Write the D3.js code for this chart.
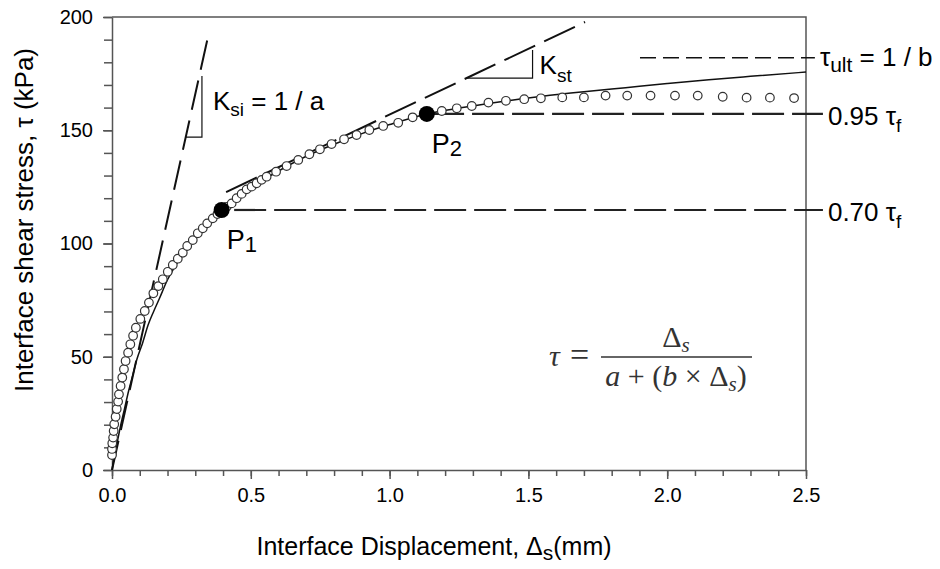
<!DOCTYPE html>
<html>
<head>
<meta charset="utf-8">
<script src="https://cdn.jsdelivr.net/npm/d3@7"></script>
<style>
  body { margin: 0; background: #fff; }
  svg text { font-family: "Liberation Sans", Arial, sans-serif; fill: #000; }
  .axis path, .axis line { stroke: #555; stroke-width: 1.5; }
  .axis text { font-size: 20px; font-family: "Liberation Sans", Arial, sans-serif; }
</style>
</head>
<body>
<svg id="chart" width="940" height="569"></svg>
<script>
// measured points (open circles): displacement (mm), shear stress (kPa)
const measuredDisp = [0.000, 0.000, 0.001, 0.004, 0.006, 0.008, 0.013, 0.017, 0.022, 0.025,
  0.031, 0.037, 0.043, 0.049, 0.058, 0.066, 0.076, 0.086, 0.102, 0.118,
  0.133, 0.149, 0.167, 0.183, 0.201, 0.219, 0.237, 0.255, 0.271, 0.291,
  0.309, 0.327, 0.343, 0.363, 0.380, 0.413, 0.431, 0.449, 0.467, 0.485,
  0.503, 0.521, 0.539, 0.557, 0.591, 0.629, 0.671, 0.711, 0.749, 0.791,
  0.836, 0.881, 0.927, 0.977, 1.031, 1.083, 1.134, 1.188, 1.242, 1.296,
  1.356, 1.419, 1.485, 1.545, 1.622, 1.700, 1.778, 1.856, 1.940, 2.028,
  2.110, 2.200, 2.286, 2.370, 2.457];
const measuredTau = [6.6, 9.3, 11.8, 14.3, 17.2, 20.2, 23.5, 26.9, 30.2, 33.4,
  37.1, 40.8, 44.5, 48.1, 51.8, 55.5, 59.3, 62.8, 66.7, 70.2,
  73.9, 78.0, 81.2, 84.2, 87.5, 90.5, 93.3, 95.9, 98.9, 101.5,
  104.5, 106.7, 108.9, 111.1, 113.0, 116.2, 117.7, 120.0, 121.9, 123.9,
  125.1, 126.6, 128.1, 129.5, 131.7, 134.2, 136.9, 139.4, 141.6, 143.9,
  146.0, 147.9, 150.1, 151.9, 153.3, 155.7, 157.2, 158.5, 159.7, 160.7,
  162.2, 163.0, 163.7, 164.1, 164.5, 164.5, 165.3, 165.3, 165.3, 165.3,
  165.3, 164.8, 164.4, 164.4, 164.2];

// hyperbolic fit (solid line)
const fitDisp = [0, 0.01, 0.02, 0.03, 0.045, 0.06, 0.075, 0.09, 0.11, 0.13,
  0.15, 0.17, 0.2, 0.23, 0.26, 0.3, 0.35, 0.395, 0.45, 0.5,
  0.6, 0.7, 0.8, 0.9, 1.0, 1.134, 1.25, 1.4, 1.55, 1.7,
  1.85, 2.0, 2.15, 2.3, 2.5];
const fitTau = [0, 7, 13, 19, 27, 35, 42, 49, 56, 64,
  70, 75.5, 84, 90.5, 96, 102.5, 109, 114.8, 119.5, 124.5,
  132, 138.5, 143.8, 148.5, 152.5, 157.2, 159.8, 162.6, 165, 167,
  168.8, 170.6, 172.3, 173.8, 175.7];

// key points P1, P2
const keyNames = ["1", "2"];
const keyDisp = [0.395, 1.134];
const keyTau = [114.8, 157.2];

// tangent lines [disp, tau]
const ksiLine = [[0, 0], [0.347, 192]];
const kstLine = [[0.411, 122.7], [1.704, 197.8]];
const ksiTriangle = [[0.265, 147], [0.324, 147], [0.324, 174]];
const kstTriangle = [[1.278, 173], [1.515, 173], [1.515, 185.4]];

// horizontal reference levels
const tauUlt = 182;
const refLevels = [
  { tau: 157.2, from: 1.153, label: "0.95 " },
  { tau: 114.8, from: 0.44, label: "0.70 " }
];

const xTicks = [0, 0.5, 1.0, 1.5, 2.0, 2.5];
const yTicks = [0, 50, 100, 150, 200];

const svg = d3.select("#chart");
const margin = { top: 17, left: 112 };
const width = 694, height = 453;

const x = d3.scaleLinear().domain([0, 2.5]).range([0, width]);
const y = d3.scaleLinear().domain([0, 200]).range([height, 0]);

const g = svg.append("g")
  .attr("transform", "translate(" + margin.left + "," + margin.top + ")");

// minor ticks
g.append("g")
  .attr("class", "axis")
  .attr("transform", "translate(0," + height + ")")
  .call(d3.axisBottom(x).tickValues(d3.range(0, 26).map(d => d / 10)).tickSize(6).tickFormat(""))
  .select(".domain").remove();
g.append("g")
  .attr("class", "axis")
  .call(d3.axisLeft(y).tickValues(d3.range(0, 201, 10)).tickSize(8).tickFormat(""))
  .select(".domain").remove();

g.append("g")
  .attr("class", "axis")
  .attr("transform", "translate(0," + height + ")")
  .call(d3.axisBottom(x).tickValues(xTicks).tickSize(9).tickSizeOuter(0).tickPadding(9).tickFormat(d3.format(".1f")));
g.append("g")
  .attr("class", "axis")
  .call(d3.axisLeft(y).tickValues(yTicks).tickSize(9).tickSizeOuter(0).tickPadding(10).tickFormat(d3.format("d")));

// frame top and right
g.append("path")
  .attr("d", "M0,0H" + width + "V" + height)
  .attr("fill", "none").attr("stroke", "#555").attr("stroke-width", 1.5);

const line = d3.line().x(d => x(d[0])).y(d => y(d[1]));

// reference dashed lines
refLevels.forEach(r => {
  g.append("path")
    .attr("d", line([[r.from, r.tau], [2.561, r.tau]]))
    .attr("stroke", "#222").attr("stroke-width", 2.2).attr("fill", "none")
    .attr("stroke-dasharray", "32,8");
  const t = g.append("text")
    .attr("x", x(2.561) + 5).attr("y", y(r.tau) + 11)
    .attr("font-size", 26);
  t.append("tspan").text(r.label + "\u03c4");
  t.append("tspan").attr("dy", 7).attr("font-size", 19).text("f");
});

g.append("path")
  .attr("d", line([[1.902, tauUlt], [2.532, tauUlt]]))
  .attr("stroke", "#111").attr("stroke-width", 1.5).attr("fill", "none")
  .attr("stroke-dasharray", "16,7");
const tu = g.append("text")
  .attr("x", x(2.532) + 5).attr("y", y(tauUlt) + 8)
  .attr("font-size", 26);
tu.append("tspan").text("\u03c4");
tu.append("tspan").attr("dy", 6).attr("font-size", 21).text("ult");
tu.append("tspan").attr("dy", -6).text(" = 1 / b");

// tangent lines
g.append("path").attr("d", line(ksiLine))
  .attr("stroke", "#111").attr("stroke-width", 2).attr("fill", "none")
  .attr("stroke-dasharray", "30,11");
g.append("path").attr("d", line(kstLine))
  .attr("stroke", "#111").attr("stroke-width", 2).attr("fill", "none")
  .attr("stroke-dasharray", "34,10");
g.append("path").attr("d", line(ksiTriangle))
  .attr("stroke", "#111").attr("stroke-width", 1.2).attr("fill", "none");
g.append("path").attr("d", line(kstTriangle))
  .attr("stroke", "#111").attr("stroke-width", 1.2).attr("fill", "none");

const ks = g.append("text")
  .attr("x", x(0.324) + 11).attr("y", y(166) + 16).attr("font-size", 26);
ks.append("tspan").text("K");
ks.append("tspan").attr("dy", 6).attr("font-size", 19).text("si");
ks.append("tspan").attr("dy", -6).text(" = 1 / a");

const kt = g.append("text")
  .attr("x", x(1.515) + 7).attr("y", y(179) + 9).attr("font-size", 26);
kt.append("tspan").text("K");
kt.append("tspan").attr("dy", 8).attr("font-size", 19).text("st");

// fitted curve
const fit = fitDisp.map((d, i) => [d, fitTau[i]]);
g.append("path")
  .attr("d", line.curve(d3.curveMonotoneX)(fit))
  .attr("stroke", "#111").attr("stroke-width", 1.5).attr("fill", "none");

// measured circles
g.selectAll(".meas")
  .data(measuredDisp.map((d, i) => [d, measuredTau[i]]))
  .enter().append("circle")
    .attr("class", "meas")
    .attr("cx", d => x(d[0]))
    .attr("cy", d => y(d[1]))
    .attr("r", 4.3)
    .attr("fill", "#fff")
    .attr("stroke", "#333")
    .attr("stroke-width", 1.2);

// key points
keyNames.forEach((n, i) => {
  g.append("circle")
    .attr("cx", x(keyDisp[i])).attr("cy", y(keyTau[i]))
    .attr("r", 8).attr("fill", "#000");
  const p = g.append("text")
    .attr("x", x(keyDisp[i]) + 5).attr("y", y(keyTau[i]) + 39)
    .attr("font-size", 27);
  p.append("tspan").text("P");
  p.append("tspan").attr("dy", 3).attr("font-size", 22).text(n);
});

// equation
const eq = svg.append("g");
const serif = "'Liberation Serif', 'DejaVu Serif', serif";
eq.append("text").attr("x", 549).attr("y", 366).attr("font-size", 30)
  .attr("font-style", "italic").style("font-family", serif).style("fill", "#333").text("\u03c4");
eq.append("text").attr("x", 570).attr("y", 366).attr("font-size", 34)
  .style("font-family", serif).style("fill", "#333").text("=");
eq.append("line").attr("x1", 601).attr("x2", 752).attr("y1", 357).attr("y2", 357)
  .attr("stroke", "#333").attr("stroke-width", 1.4);
const num = eq.append("text").attr("x", 676).attr("y", 347).attr("text-anchor", "middle")
  .attr("font-size", 30).style("font-family", serif).style("fill", "#333");
num.append("tspan").text("\u0394");
num.append("tspan").attr("dy", 5).attr("font-size", 21).attr("font-style", "italic").text("s");
const den = eq.append("text").attr("x", 676).attr("y", 386).attr("text-anchor", "middle")
  .attr("font-size", 30).style("font-family", serif).style("fill", "#333");
den.append("tspan").attr("font-style", "italic").text("a");
den.append("tspan").text(" + (");
den.append("tspan").attr("font-style", "italic").text("b");
den.append("tspan").text(" \u00d7 \u0394");
den.append("tspan").attr("dy", 5).attr("font-size", 21).attr("font-style", "italic").text("s");
den.append("tspan").attr("dy", -5).text(")");

// axis titles
const xt = svg.append("text")
  .attr("x", 434).attr("y", 555).attr("text-anchor", "middle").attr("font-size", 25);
xt.append("tspan").text("Interface Displacement, \u0394");
xt.append("tspan").attr("dy", 5).attr("font-size", 21).text("s");
xt.append("tspan").attr("dy", -5).text("(mm)");

svg.append("text")
  .attr("transform", "translate(33,220) rotate(-90)")
  .attr("text-anchor", "middle").attr("font-size", 26)
  .text("Interface shear stress, \u03c4 (kPa)");
</script>
</body>
</html>
